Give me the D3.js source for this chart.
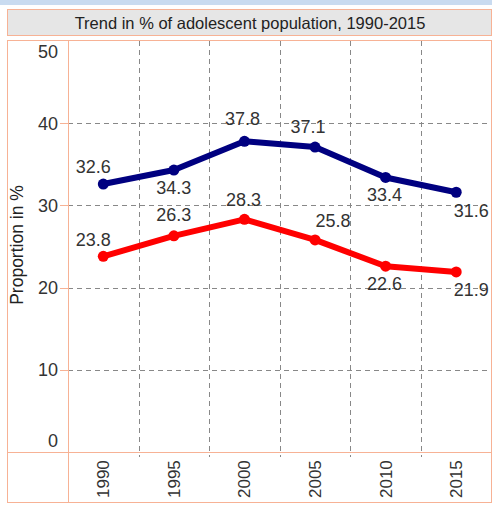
<html>
<head>
  <script src="https://d3js.org/d3.v7.min.js"></script>
  <style>
    body { margin: 0; background: #fff; }
    text { font-family: "Liberation Sans", Arial, sans-serif; }
  </style>
</head>
<body>
  <div id="chart"></div>
  <script>
    const title = "Trend in % of adolescent population, 1990-2015";
    const yTitle = "Proportion in %";
    const years = ["1990", "1995", "2000", "2005", "2010", "2015"];
    const upper = [32.6, 34.3, 37.8, 37.1, 33.4, 31.6];
    const lower = [23.8, 26.3, 28.3, 25.8, 22.6, 21.9];
    const yTicks = [0, 10, 20, 30, 40, 50];

    // label offsets (dx, dy) from each point
    const upperOff = [[-10, -17], [0, 18], [-2, -23], [-7, -20], [-1, 17], [15, 18]];
    const lowerOff = [[-10, -17], [0, -21], [-1, -20], [18, -19], [-1, 17], [15, 18]];

    const w = 492, h = 507;
    const salmon = "#f7b295";
    const plotL = 68, plotR = 491.5, plotT = 41, plotB = 452;

    const svg = d3.select("#chart").append("svg")
      .attr("width", w).attr("height", h);

    // top band
    svg.append("rect").attr("x", 0).attr("y", 0).attr("width", w).attr("height", 5)
      .attr("fill", "#c9dbf0");

    // title box
    svg.append("rect").attr("x", 7.5).attr("y", 9.5).attr("width", 484).attr("height", 26)
      .attr("fill", "#e6e6e6").attr("stroke", salmon);
    svg.append("text").attr("x", 250).attr("y", 23).attr("dy", "0.35em")
      .attr("text-anchor", "middle").attr("font-size", 16.5).attr("fill", "#222")
      .text(title);

    const x = d3.scalePoint().domain(years).range([plotL, plotR]).padding(0.5);
    const xb = d3.scaleBand().domain(years).range([plotL, plotR]);
    const y = d3.scaleLinear().domain([0, 50]).range([plotB, plotT]);

    // grid
    svg.append("g").selectAll("line")
      .data(yTicks.filter(d => d > 0 && d < 50))
      .join("line")
      .attr("x1", plotL).attr("x2", plotR)
      .attr("y1", d => Math.round(y(d)) + 0.5).attr("y2", d => Math.round(y(d)) + 0.5)
      .attr("stroke", "#888").attr("stroke-dasharray", "5,4");
    svg.append("g").selectAll("line")
      .data(years.slice(1))
      .join("line")
      .attr("x1", d => Math.round(xb(d)) + 0.5).attr("x2", d => Math.round(xb(d)) + 0.5)
      .attr("y1", plotT).attr("y2", plotB + 5)
      .attr("stroke", "#888").attr("stroke-dasharray", "5,4");

    // panel borders
    svg.append("rect").attr("x", 7.5).attr("y", 40.5).attr("width", 484).attr("height", 462)
      .attr("fill", "none").attr("stroke", salmon);
    svg.append("line").attr("x1", plotL + 0.5).attr("x2", plotL + 0.5).attr("y1", 41).attr("y2", 503)
      .attr("stroke", salmon);
    svg.append("line").attr("x1", 7).attr("x2", 492).attr("y1", plotB + 0.5).attr("y2", plotB + 0.5)
      .attr("stroke", salmon);

    // y ticks
    svg.append("g").selectAll("line")
      .data(yTicks.filter(d => d > 0 && d < 50))
      .join("line")
      .attr("x1", 60).attr("x2", plotL)
      .attr("y1", d => Math.round(y(d)) + 0.5).attr("y2", d => Math.round(y(d)) + 0.5)
      .attr("stroke", salmon);
    svg.append("g").selectAll("text")
      .data(yTicks)
      .join("text")
      .attr("x", 58)
      .attr("y", d => Math.min(Math.max(y(d), 52), 441))
      .attr("dy", "0.35em")
      .attr("text-anchor", "end").attr("font-size", 18).attr("fill", "#333")
      .text(d => d);

    // y title
    svg.append("text")
      .attr("transform", "translate(23,245) rotate(-90)")
      .attr("text-anchor", "middle").attr("font-size", 17.5).attr("fill", "#222")
      .text(yTitle);

    // x labels
    svg.append("g").selectAll("text")
      .data(years)
      .join("text")
      .attr("transform", d => "translate(" + (x(d) + 6) + ",498) rotate(-90)")
      .attr("text-anchor", "start").attr("font-size", 17).attr("fill", "#333")
      .text(d => d);

    const line = d3.line().x((d, i) => x(years[i])).y(d => y(d));

    function series(vals, color, offs) {
      svg.append("path").datum(vals)
        .attr("d", line).attr("fill", "none")
        .attr("stroke", color).attr("stroke-width", 6).attr("stroke-linejoin", "round");
      svg.append("g").selectAll("circle").data(vals).join("circle")
        .attr("cx", (d, i) => x(years[i])).attr("cy", d => y(d)).attr("r", 5.5)
        .attr("fill", color);
      svg.append("g").selectAll("text").data(vals).join("text")
        .attr("x", (d, i) => x(years[i]) + offs[i][0])
        .attr("y", (d, i) => y(d) + offs[i][1])
        .attr("dy", "0.35em").attr("text-anchor", "middle")
        .attr("font-size", 18).attr("fill", "#333")
        .text(d => d.toFixed(1));
    }
    series(upper, "#000080", upperOff);
    series(lower, "#ff0000", lowerOff);
  </script>
</body>
</html>
